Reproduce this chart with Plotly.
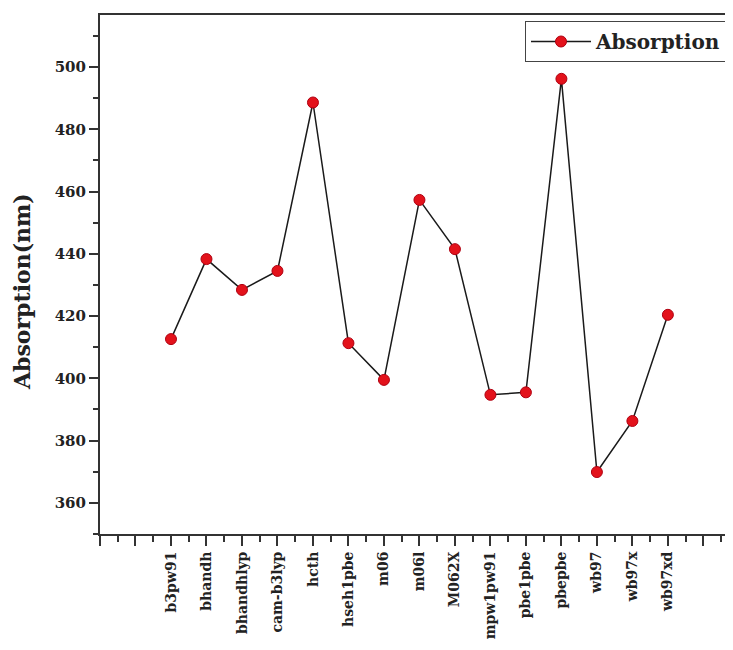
import numpy as np
import plotly.graph_objects as go

categories = ["b3pw91", "bhandh", "bhandhlyp", "cam-b3lyp", "hcth", "hseh1pbe", "m06",
              "m06l", "M062X", "mpw1pw91", "pbe1pbe", "pbepbe", "wb97", "wb97x", "wb97xd"]
absorption = [412.6, 438.3, 428.4, 434.5, 488.6, 411.3, 399.5,
              457.3, 441.5, 394.7, 395.5, 496.2, 369.9, 386.3, 420.4]

offset = 2  # categories start at the third tick position
xpos = np.arange(len(categories)) + offset
n_ticks = 19
tickvals = list(range(n_ticks))
ticktext = [categories[i - offset] if offset <= i < offset + len(categories) else "" for i in tickvals]

FONT = "DejaVu Serif"
ML, MT, MR, MB = 92, 7, 0, 124
PW = 733 - ML - MR
PH = 650 - MT - MB

fig = go.Figure()
fig.add_trace(go.Scatter(
    x=xpos, y=absorption, mode="lines+markers", name="Absorption",
    line=dict(color="#1a1a1a", width=1.5),
    marker=dict(size=11, color="#e3121b", line=dict(color="#b00010", width=1)),
))

fig.update_layout(
    width=733, height=650,
    margin=dict(l=ML, r=MR, t=MT, b=MB, autoexpand=False),
    paper_bgcolor="white", plot_bgcolor="white",
    font=dict(family=FONT, color="#222"),
    showlegend=True,
    legend=dict(
        x=(525 - 100) / PW, y=1 - 6 / PH, xanchor="left", yanchor="top",
        bordercolor="#444", borderwidth=1, bgcolor="white",
        font=dict(family=FONT, size=20, weight="bold", color="#222"),
        itemwidth=60,
    ),
)

fig.update_xaxes(
    range=[0, 18.06], automargin=False,
    tickmode="array", tickvals=tickvals, ticktext=ticktext,
    tickangle=-90,
    tickfont=dict(family=FONT, size=14, weight="bold", color="#222"),
    ticks="outside", ticklen=10, tickwidth=2, tickcolor="#333",
    minor=dict(dtick=0.5, tick0=0, ticks="outside", ticklen=6, tickwidth=2, tickcolor="#333", showgrid=False),
    showline=True, linecolor="#333", linewidth=2, mirror=True,
    showgrid=False, zeroline=False,
)

fig.update_yaxes(
    range=[350, 516.7], automargin=False,
    tickmode="linear", tick0=360, dtick=20,
    tickfont=dict(family=FONT, size=15, weight="bold", color="#222"),
    ticks="outside", ticklen=9, tickwidth=2, tickcolor="#333",
    minor=dict(dtick=10, tick0=350, ticks="outside", ticklen=5, tickwidth=2, tickcolor="#333", showgrid=False),
    showline=True, linecolor="#333", linewidth=2, mirror=False,
    showgrid=False, zeroline=False,
)

fig.add_annotation(
    text="Absorption(nm)", textangle=-90,
    xref="paper", yref="paper", x=(22 - 100) / PW, y=(534 - 292) / PH,
    xanchor="center", yanchor="middle", showarrow=False,
    font=dict(family=FONT, size=22, weight="bold", color="#222"),
)

fig.write_html("out.html")
